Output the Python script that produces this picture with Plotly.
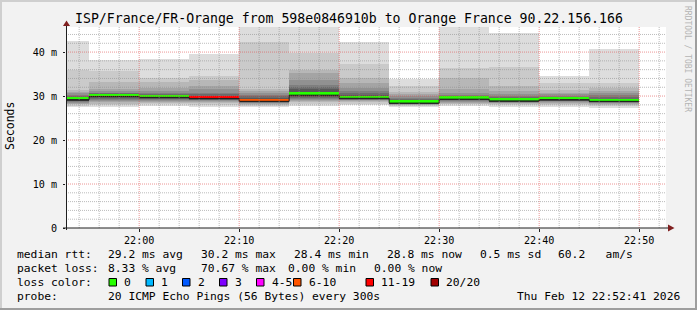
import plotly.graph_objects as go
import pandas as pd

# ---------------- data ----------------
step_end = ["2026-02-12 21:55:00", "2026-02-12 22:00:00", "2026-02-12 22:05:00", "2026-02-12 22:10:00",
            "2026-02-12 22:15:00", "2026-02-12 22:20:00", "2026-02-12 22:25:00", "2026-02-12 22:30:00",
            "2026-02-12 22:35:00", "2026-02-12 22:40:00", "2026-02-12 22:45:00", "2026-02-12 22:50:00"]
median_ms = [29.2, 29.9, 29.7, 29.45, 28.8, 30.2, 29.5, 28.4, 29.3, 28.9, 29.2, 28.8]
loss_pct = [0, 0, 0, 70.67, 29.33, 0, 0, 0, 0, 0, 0, 0]
# sorted pings, outermost first: high = ping20..ping11, low = ping1..ping10
pings_high = [
    [42.6, 35.9, 31.3, 30.9, 30.6, 30.3, 30.0, 29.8, 29.6, 29.4],
    [38.2, 35.6, 33.1, 31.7, 31.2, 30.8, 30.6, 30.4, 30.2, 30.0],
    [38.5, 34.2, 33.1, 31.8, 31.2, 30.8, 30.5, 30.3, 30.0, 29.8],
    [39.5, 34.6, 33.7, 32.3, 31.5, 30.7, 30.4, 30.1, 29.8, 29.6],
    [47.0, 42.3, 31.6, 31.2, 30.7, 30.3, 29.9, 29.5, 29.2, 29.0],
    [47.0, 39.9, 35.9, 35.2, 33.7, 32.6, 32.0, 31.5, 31.0, 30.5],
    [42.2, 37.2, 34.2, 33.0, 31.9, 31.2, 30.6, 30.2, 29.9, 29.7],
    [33.9, 32.4, 31.0, 30.4, 29.9, 29.6, 29.3, 29.0, 28.8, 28.6],
    [47.0, 36.4, 34.2, 31.5, 30.6, 30.2, 30.0, 29.8, 29.6, 29.4],
    [44.4, 36.7, 32.3, 31.2, 30.4, 30.0, 29.7, 29.4, 29.2, 29.0],
    [34.6, 32.9, 31.4, 30.8, 30.4, 30.1, 29.8, 29.6, 29.4, 29.3],
    [40.7, 33.0, 31.9, 31.2, 30.6, 30.2, 29.8, 29.4, 29.1, 28.95],
]
pings_low = [
    [27.4, 27.8, 28.1, 28.3, 28.5, 28.7, 28.8, 28.9, 29.0, 29.1],
    [27.5, 27.9, 28.2, 28.6, 28.9, 29.1, 29.3, 29.5, 29.7, 29.8],
    [27.8, 28.1, 28.4, 28.7, 28.9, 29.1, 29.3, 29.4, 29.5, 29.6],
    [27.6, 28.0, 28.4, 28.6, 28.8, 29.0, 29.1, 29.2, 29.3, 29.4],
    [27.5, 27.8, 28.0, 28.2, 28.4, 28.5, 28.6, 28.7, 28.75, 28.8],
    [27.8, 28.2, 28.6, 28.9, 29.2, 29.4, 29.6, 29.8, 29.9, 30.0],
    [28.0, 28.3, 28.6, 28.8, 29.0, 29.1, 29.2, 29.3, 29.4, 29.45],
    [27.6, 27.8, 27.9, 28.0, 28.1, 28.2, 28.25, 28.3, 28.35, 28.4],
    [27.8, 28.1, 28.3, 28.5, 28.7, 28.8, 29.0, 29.1, 29.2, 29.25],
    [27.6, 28.0, 28.2, 28.4, 28.5, 28.6, 28.7, 28.75, 28.8, 28.85],
    [27.6, 28.0, 28.2, 28.4, 28.6, 28.8, 28.9, 29.0, 29.1, 29.15],
    [27.3, 27.7, 28.0, 28.2, 28.4, 28.5, 28.6, 28.7, 28.75, 28.8],
]
loss_labels = ["0", "1", "2", "3", "4-5", "6-10", "11-19", "20/20"]
loss_colors = ["#26ff00", "#00b8ff", "#0059ff", "#7e00ff", "#ff00ff", "#ff5500", "#ff0000", "#a10000"]
loss_upper = [0, 1, 2, 3, 5, 10, 19, 20]
pings_count = 20
y_ticks = [0, 10, 20, 30, 40]
y_ticktext = ["0", "10 m", "20 m", "30 m", "40 m"]
title_text = "ISP/France/FR-Orange from 598e0846910b to Orange France 90.22.156.166"
stats_rtt = ["median rtt:", "29.2 ms avg", "30.2 ms max", "28.4 ms min", "28.8 ms now", "0.5 ms sd", "60.2   am/s"]
stats_loss = ["packet loss:", "8.33 % avg", "70.67 % max", "0.00 % min", "0.00 % now"]
probe_text = ["probe:", "20 ICMP Echo Pings (56 Bytes) every 300s"]
stamp_text = "Thu Feb 12 22:52:41 2026"
x_start, x_end = "2026-02-12 21:52:41", "2026-02-12 22:52:41"

# ---------------- geometry ----------------
W, H = 697, 310
L, R, T, B = 66, 31, 27, 82
PW, PH = W - L - R, H - T - B
def px(x): return (x - L) / PW
def py(y): return (H - B - y) / PH

MONO = "DejaVu Sans Mono"
ends = pd.to_datetime(step_end)
step = pd.Timedelta(seconds=300)
centers = [e - step / 2 for e in ends]

fig = go.Figure()

# smoke bands
half = pings_count // 2
for i in range(half):
    g = int(190 / half * (half - (i + 1))) + 50
    col = "#%02x%02x%02x" % (g, g, g)
    lo = [pings_low[s][i] for s in range(len(ends))]
    hi = [pings_high[s][i] for s in range(len(ends))]
    fig.add_trace(go.Bar(x=centers, y=[h - l for h, l in zip(hi, lo)], base=lo, width=300000,
                         marker=dict(color=col, line=dict(width=0)), hoverinfo="skip", showlegend=False))

# median colour bands
def loss_col(p):
    n = round(p * pings_count / 100)
    for up, c in zip(loss_upper, loss_colors):
        if n <= up:
            return c
    return loss_colors[-1]

band_h = 0.62
fig.add_trace(go.Bar(x=centers, y=[band_h] * len(ends), base=list(median_ms), width=300000,
                     marker=dict(color=[loss_col(p) for p in loss_pct], line=dict(width=0)),
                     hoverinfo="skip", showlegend=False))
# median line
sx = [e - step for e in ends] + [ends[-1]]
sy = list(median_ms) + [median_ms[-1]]
fig.add_trace(go.Scatter(x=sx, y=sy, mode="lines", line=dict(shape="hv", color="#202020", width=1),
                         hoverinfo="skip", showlegend=False))

shapes = []
# grid (drawn above data like rrdtool)
minor_grid = "rgba(143,143,143,0.6)"
major_grid = "rgba(222,80,80,0.6)"
t0 = pd.Timestamp("2026-02-12 21:54:00")
t = t0
while t <= pd.Timestamp(x_end):
    major = (t.minute % 10 == 0)
    shapes.append(dict(type="line", xref="x", yref="paper", x0=t, x1=t, y0=0, y1=1, layer="above",
                       line=dict(color=major_grid if major else minor_grid, width=1, dash="1px,1px")))
    t += pd.Timedelta(minutes=2)
for v in range(2, 46, 2):
    major = (v % 10 == 0)
    shapes.append(dict(type="line", xref="paper", yref="y", x0=0, x1=1, y0=v, y1=v, layer="above",
                       line=dict(color=major_grid if major else minor_grid, width=1, dash="1px,1px")))

axis_col = "#1f1f1f"
arrow_col = "#802020"
# axes lines
shapes.append(dict(type="line", xref="paper", yref="paper", x0=px(63), x1=px(668), y0=py(228), y1=py(228),
                   layer="above", line=dict(color=axis_col, width=1)))
shapes.append(dict(type="line", xref="paper", yref="paper", x0=px(66.5), x1=px(66.5), y0=py(230), y1=py(25),
                   layer="above", line=dict(color=axis_col, width=1)))
# arrows
shapes.append(dict(type="path", xref="paper", yref="paper", layer="above",
                   path="M %f,%f L %f,%f L %f,%f Z" % (px(668), py(224.5), px(668), py(231.5), px(674.5), py(228)),
                   fillcolor=arrow_col, line=dict(width=0)))
shapes.append(dict(type="path", xref="paper", yref="paper", layer="above",
                   path="M %f,%f L %f,%f L %f,%f Z" % (px(63), py(26), px(70), py(26), px(66.5), py(20.5)),
                   fillcolor=arrow_col, line=dict(width=0)))
# frame shading
shadeA, shadeB = "#cfcfcf", "#9e9e9e"
shapes.append(dict(type="rect", xref="paper", yref="paper", x0=px(0), x1=px(W), y0=py(0), y1=py(2),
                   fillcolor=shadeA, line=dict(width=0), layer="above"))
shapes.append(dict(type="rect", xref="paper", yref="paper", x0=px(0), x1=px(2), y0=py(0), y1=py(H),
                   fillcolor=shadeA, line=dict(width=0), layer="above"))
shapes.append(dict(type="rect", xref="paper", yref="paper", x0=px(0), x1=px(W), y0=py(H - 2), y1=py(H),
                   fillcolor=shadeB, line=dict(width=0), layer="above"))
shapes.append(dict(type="rect", xref="paper", yref="paper", x0=px(W - 2), x1=px(W), y0=py(0), y1=py(H),
                   fillcolor=shadeB, line=dict(width=0), layer="above"))

ann = []
def text(x, y, s, size=11.3, anchor="left", color="#000000", angle=0):
    ann.append(dict(x=px(x), y=py(y), xref="paper", yref="paper", text=s, showarrow=False,
                    xanchor=anchor, yanchor="middle", textangle=angle, borderpad=0,
                    font=dict(family=MONO, size=size, color=color)))

text(348.5, 18.5, title_text, size=13.2, anchor="center")
text(10, 126, "Seconds", angle=-90, anchor="center", size=11.5)
text(688, 59, "RRDTOOL / TOBI OETIKER", size=8, anchor="center", color="#b4b4b4", angle=90)

rtt_x = [16, 107, 200, 293, 386, 479, 557]
for xx, s in zip(rtt_x, stats_rtt):
    text(xx, 254.5, s)
loss_x = [16, 107, 200, 287, 373]
for xx, s in zip(loss_x, stats_loss):
    text(xx, 268.5, s)
text(16, 282.5, "loss color:")
box_x = [109, 146, 182.5, 219.5, 256.5, 293.5, 366, 431]
for bx, lab, c in zip(box_x, loss_labels, loss_colors):
    shapes.append(dict(type="rect", xref="paper", yref="paper", x0=px(bx), x1=px(bx + 7.5), y0=py(286), y1=py(278.5),
                       fillcolor=c, line=dict(color="#000000", width=1), layer="above"))
    text(bx + 14, 282.5, lab)
text(16, 296.5, probe_text[0])
text(107, 296.5, probe_text[1])
text(680.5, 296.5, stamp_text, anchor="right")

fig.update_layout(
    width=W, height=H, margin=dict(l=L, r=R, t=T, b=B, pad=0),
    paper_bgcolor="#f2f2f2", plot_bgcolor="#ffffff",
    barmode="overlay", bargap=0, showlegend=False,
    shapes=shapes, annotations=ann,
    xaxis=dict(type="date", range=[x_start, x_end], showgrid=False, zeroline=False, showline=False,
               tickformat="%H:%M", dtick=600000, tick0="2026-02-12 22:00:00",
               ticks="outside", ticklen=3, tickcolor=axis_col,
               tickfont=dict(family=MONO, size=10.1, color="#000000")),
    yaxis=dict(range=[0, 45.7], showgrid=False, zeroline=False, showline=False,
               tickvals=y_ticks, ticktext=y_ticktext, ticks="outside", ticklen=2, tickcolor=axis_col,
               ticklabelstandoff=4,
               tickfont=dict(family=MONO, size=10.1, color="#000000")),
)
fig.write_html("out.html")
